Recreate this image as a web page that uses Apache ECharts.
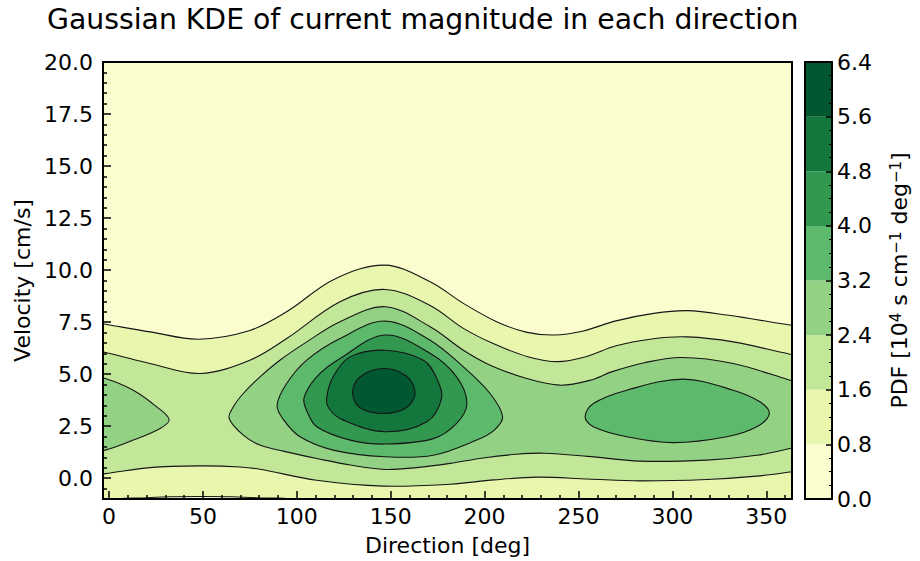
<!DOCTYPE html>
<html>
<head>
<meta charset="utf-8">
<script src="https://cdn.jsdelivr.net/npm/echarts@6/dist/echarts.min.js"></script>
<style>
  html, body { margin: 0; padding: 0; background: #ffffff; }
  #chart { width: 920px; height: 561px; }
</style>
</head>
<body>
<div id="chart"></div>
<script>
// Filled contour levels of the PDF and their colours (YlGn)
const pdfLevels = [0, 0.8, 1.6, 2.4, 3.2, 4.0, 4.8, 5.6, 6.4];
const levelColors = ['#fbfdcf', '#e8f6ae', '#c3e799', '#93d284', '#5db96b', '#329850', '#12763d', '#005730'];

// Axis ticks
const directionTicks = [0, 50, 100, 150, 200, 250, 300, 350];
const velocityTicks = [0, 2.5, 5, 7.5, 10, 12.5, 15, 17.5, 20];

// Level lines as [direction deg, velocity cm/s]; the ends run past the frame and are clipped
const line08Top = [[-25, 7.75], [-2, 7.40], [22, 7.03], [47.6, 6.68], [75, 7.1], [94.6, 8.0], [120, 9.56], [147, 10.24], [171, 9.44], [188.7, 8.4], [206.4, 7.52], [222, 7.02], [237, 6.88], [252, 7.06], [270, 7.56], [290, 7.92], [308, 8.05], [329, 7.84], [362.6, 7.36], [385, 7.05]];
const line08Bottom = [[-25, -3], [0, -1.15], [18, -0.95], [50, -0.88], [80, -0.95], [100, -1.15], [120, -3], [385, -3]];

const line16Top = [[-25, 6.4], [-2, 6.04], [21.8, 5.51], [48.5, 5.03], [75, 5.67], [94.6, 6.71], [123, 8.48], [147, 9.07], [171, 8.3], [188.7, 7.2], [204.6, 6.47], [223, 5.84], [239, 5.6], [254, 5.84], [270, 6.36], [290, 6.7], [308, 6.79], [332.4, 6.55], [362.6, 5.96], [385, 5.6]];
const line16Bottom = [[-25, 0.0], [-2, 0.22], [21.8, 0.51], [48.5, 0.59], [69.8, 0.54], [80.4, 0.43], [110.6, -0.1], [146, -0.38], [181.6, -0.29], [205, -0.08], [228, 0.05], [255, -0.04], [282.7, -0.13], [318.3, -0.06], [344.9, 0.1], [362.6, 0.3], [385, 0.6]];

const line24West = [[-25, 5.3], [-2, 4.79], [12.9, 4.23], [25.4, 3.43], [32, 2.82], [27.2, 2.39], [12.9, 1.83], [-2, 1.35], [-25, 1.0]];
const line24Main = [[64, 2.87], [66.2, 3.43], [71.5, 4.07], [80.4, 4.87], [91, 5.67], [105.3, 6.55], [123, 7.52], [147, 8.24], [171, 7.28], [188.7, 6.15], [203, 5.43], [222, 4.8], [240, 4.47], [256, 4.7], [268, 5.12], [285, 5.55], [305, 5.8], [332.4, 5.51], [362.6, 4.71], [385, 4.1],
  [385, 1.9], [362.6, 1.43], [345, 1.1], [318.3, 0.87], [282.7, 0.82], [255, 1.05], [232, 1.2], [217, 1.15], [199.3, 0.97], [181.6, 0.71], [163.8, 0.51], [147, 0.42], [128.4, 0.63], [110.6, 0.95], [92.8, 1.3], [80.4, 1.59], [71.5, 2.07]];

const line32Center = [[89.5, 3.5], [94.6, 4.55], [105.3, 5.67], [123, 6.71], [147, 7.55], [171, 6.63], [188.7, 5.35], [202.9, 4.07], [209.6, 2.95], [205, 2.3], [195.8, 1.83], [172.7, 1.1], [147, 1.03], [119.4, 1.35], [101.7, 1.99], [93, 2.8]];
const line32East = [[253.5, 2.95], [257.9, 3.59], [275.7, 4.23], [305.8, 4.76], [332.4, 4.23], [346.6, 3.67], [351.6, 3.1], [344.9, 2.47], [329, 1.99], [300.5, 1.71], [275.7, 1.99], [257.9, 2.47]];
const line40 = [[103.8, 3.85], [110.6, 4.87], [123, 5.75], [147, 6.88], [171, 6.0], [185.1, 4.87], [190.6, 3.6], [185.1, 2.63], [172.7, 1.9], [147, 1.64], [128.4, 1.83], [110.6, 2.47], [105.5, 3.2]];
const line48 = [[115.9, 3.85], [119.5, 4.9], [128.3, 5.83], [147, 6.15], [167.4, 5.67], [174.5, 4.8], [177.1, 3.85], [169.2, 2.71], [147, 2.23], [124.8, 2.79], [117.5, 3.3]];
const line56 = [[129.7, 4.1], [133.5, 4.85], [146, 5.27], [158.5, 4.9], [163, 4.1], [158.5, 3.4], [146, 3.11], [133.5, 3.4]];

// Each filled band: index into levelColors plus its outline
const pdfRegions = [
  { level: 1, outline: line08Top.concat(line08Bottom.slice().reverse()) },
  { level: 2, outline: line16Top.concat(line16Bottom.slice().reverse()) },
  { level: 3, outline: line24West },
  { level: 3, outline: line24Main },
  { level: 4, outline: line32Center },
  { level: 4, outline: line32East },
  { level: 5, outline: line40 },
  { level: 6, outline: line48 },
  { level: 7, outline: line56 }
];

const FONT = 'DejaVu Sans';
const frameLine = { color: '#000000', width: 2 };
const tickLine = { color: '#000000', width: 1.5 };
const labelStyle = { color: '#000000', fontSize: 22, fontFamily: FONT };

const directionMinor = [];
for (let d = 10; d <= 360; d += 10) if (d % 50 !== 0) directionMinor.push(d);
const velocityMinor = [];
for (let v = -1; v <= 20.001; v += 0.5) {
  const r = Math.round(v * 10) / 10;
  if (Math.abs(r / 2.5 - Math.round(r / 2.5)) > 1e-6) velocityMinor.push(r);
}

const X_MIN = -3.2, X_MAX = 363.7, Y_MIN = -1, Y_MAX = 20;

function frameAxis(extra) {
  return Object.assign({
    type: 'value', z: 10,
    axisLine: { show: true, onZero: false, lineStyle: frameLine },
    axisTick: { show: false }, axisLabel: { show: false }, splitLine: { show: false }
  }, extra);
}

function renderRegion(params, api) {
  const region = pdfRegions[params.dataIndex];
  const points = region.outline.map(p => api.coord(p));
  return {
    type: 'polygon',
    shape: { points: points, smooth: 0.35 },
    style: { fill: levelColors[region.level], stroke: '#151515', lineWidth: 1.1 },
    silent: true
  };
}

function renderBand(params, api) {
  const p0 = api.coord([0, api.value(0)]);
  const p1 = api.coord([1, api.value(1)]);
  return {
    type: 'rect',
    shape: { x: p0[0], y: p1[1], width: p1[0] - p0[0], height: p0[1] - p1[1] },
    style: { fill: levelColors[params.dataIndex] },
    silent: true
  };
}

const chart = echarts.init(document.getElementById('chart'), null, { renderer: 'svg' });
chart.setOption({
  animation: false,
  backgroundColor: '#ffffff',
  title: {
    text: 'Gaussian KDE of current magnitude in each direction',
    left: 42, top: 0,
    textStyle: { fontFamily: FONT, fontSize: 28.3, fontWeight: 'normal', color: '#000000' }
  },
  grid: [
    { left: 103, right: 128, top: 62, bottom: 62, show: true, backgroundColor: levelColors[0], borderWidth: 0 },
    { left: 805, right: 88, top: 62, bottom: 62, show: false }
  ],
  xAxis: [
    {
      gridIndex: 0, type: 'value', min: X_MIN, max: X_MAX, position: 'bottom', z: 10,
      axisLine: { show: true, onZero: false, lineStyle: frameLine },
      axisTick: { show: true, inside: true, length: 8, lineStyle: tickLine, customValues: directionTicks },
      axisLabel: Object.assign({ customValues: directionTicks, margin: 6 }, labelStyle),
      splitLine: { show: false },
      name: 'Direction [deg]', nameLocation: 'middle', nameGap: 35,
      nameTextStyle: labelStyle
    },
    {
      gridIndex: 0, type: 'value', min: X_MIN, max: X_MAX, position: 'bottom', z: 9,
      axisLine: { show: false, onZero: false },
      axisTick: { show: true, inside: true, length: 4, lineStyle: tickLine, customValues: directionMinor },
      axisLabel: { show: false }, splitLine: { show: false }
    },
    frameAxis({ gridIndex: 0, min: X_MIN, max: X_MAX, position: 'top' }),
    frameAxis({ gridIndex: 1, min: 0, max: 1, position: 'bottom' }),
    frameAxis({ gridIndex: 1, min: 0, max: 1, position: 'top' })
  ],
  yAxis: [
    {
      gridIndex: 0, type: 'value', min: Y_MIN, max: Y_MAX, position: 'left', z: 10,
      axisLine: { show: true, onZero: false, lineStyle: frameLine },
      axisTick: { show: true, inside: true, length: 8, lineStyle: tickLine, customValues: velocityTicks },
      axisLabel: Object.assign({ customValues: velocityTicks, margin: 10, formatter: v => v.toFixed(1) }, labelStyle),
      splitLine: { show: false },
      name: 'Velocity [cm/s]', nameLocation: 'middle', nameRotate: 90, nameGap: 68,
      nameTextStyle: labelStyle
    },
    {
      gridIndex: 0, type: 'value', min: Y_MIN, max: Y_MAX, position: 'left', z: 9,
      axisLine: { show: false, onZero: false },
      axisTick: { show: true, inside: true, length: 4, lineStyle: tickLine, customValues: velocityMinor },
      axisLabel: { show: false }, splitLine: { show: false }
    },
    frameAxis({ gridIndex: 0, min: Y_MIN, max: Y_MAX, position: 'right' }),
    {
      gridIndex: 1, type: 'value', min: pdfLevels[0], max: pdfLevels[pdfLevels.length - 1], interval: 0.8,
      position: 'right', z: 10,
      axisLine: { show: true, onZero: false, lineStyle: frameLine },
      axisTick: { show: true, inside: true, length: 6, lineStyle: tickLine },
      minorTick: { show: true, splitNumber: 4, length: 3, lineStyle: { color: '#000000', width: 1 } },
      axisLabel: Object.assign({ margin: 5, formatter: v => v.toFixed(1) }, labelStyle),
      splitLine: { show: false },
      name: 'PDF [10{sup|4} s cm{sup|−1} deg{sup|−1}]',
      nameLocation: 'middle', nameRotate: 90, nameGap: 56,
      nameTextStyle: Object.assign({
        rich: { sup: { fontSize: 15, fontFamily: FONT, color: '#000000', verticalAlign: 'top', lineHeight: 22 } }
      }, labelStyle)
    },
    frameAxis({ gridIndex: 1, min: 0, max: 6.4, position: 'left' })
  ],
  series: [
    {
      type: 'custom', name: 'PDF', xAxisIndex: 0, yAxisIndex: 0, clip: true, z: 2,
      renderItem: renderRegion,
      data: pdfRegions.map((r, i) => [i, 0])
    },
    {
      type: 'custom', name: 'colorbar', xAxisIndex: 3, yAxisIndex: 3, z: 2,
      renderItem: renderBand,
      data: levelColors.map((c, i) => [pdfLevels[i], pdfLevels[i + 1]])
    }
  ]
});
</script>
</body>
</html>
